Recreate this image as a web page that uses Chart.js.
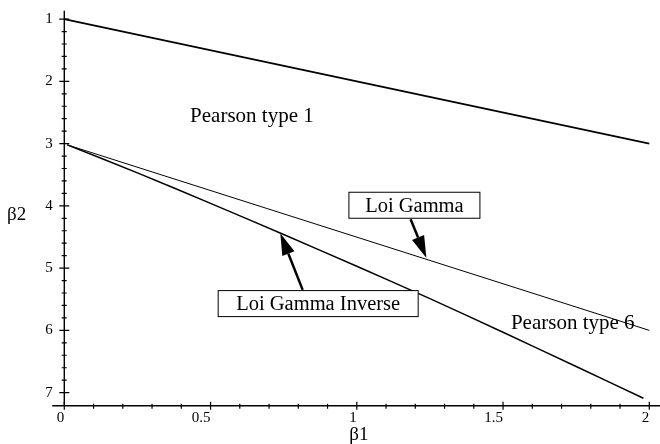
<!DOCTYPE html>
<html>
<head>
<meta charset="utf-8">
<script src="https://cdn.jsdelivr.net/npm/chart.js@4.4.1/dist/chart.umd.min.js"></script>
<style>
  html, body { margin: 0; padding: 0; background: #fff; }
  canvas { display: block; }
</style>
</head>
<body>
<canvas id="chart" width="660" height="444"></canvas>
<script>
// Boundary curves of the Pearson system in the (β1, β2) plane
const upperB1 = [0, 2];
const upperB2 = [1, 3];
const gammaB1 = [0.01, 2];
const gammaB2 = [3.02, 6];
const invGammaB1 = [0.01, 0.25, 0.5, 0.75, 1.0, 1.25, 1.5, 1.75, 1.98];
const invGammaB2 = [3.02, 3.47, 3.96, 4.46, 4.97, 5.49, 6.03, 6.58, 7.09];

// Axis ticks
const xTicks = [0, 0.5, 1, 1.5, 2];
const xTickLabels = ['0', '0.5', '1', '1.5', '2'];
const yTicks = [1, 2, 3, 4, 5, 6, 7];
const yTickLabels = ['1', '2', '3', '4', '5', '6', '7'];
const xMinorStep = 0.1;
const yMinorStep = 0.2;

const serif = '"Liberation Serif", "Times New Roman", serif';

// Region names and boxed labels with arrows (in β1 / β2 units)
const regionLabels = [
    { text: 'Pearson type 1', x: 0.43, y: 2.645 },
    { text: 'Pearson type 6', x: 1.527, y: 5.98 }
];
const callouts = [
    { text: 'Loi Gamma', x: 1.197, y: 3.99, w: 131, tail: { x: 1.184, y: 4.215 }, tip: { x: 1.238, y: 4.836 } },
    { text: 'Loi Gamma Inverse', x: 0.868, y: 5.57, w: 200, tail: { x: 0.815, y: 5.35 }, tip: { x: 0.7385, y: 4.44 } }
];

function toPoints(xs, ys) {
    return xs.map((x, i) => ({ x: x, y: ys[i] }));
}

function drawArrow(ctx, x0, y0, x1, y1) {
    const ang = Math.atan2(y1 - y0, x1 - x0);
    const headLen = 22, headHalf = 6.5;
    const bx = x1 - headLen * Math.cos(ang);
    const by = y1 - headLen * Math.sin(ang);
    ctx.lineWidth = 2.5;
    ctx.beginPath();
    ctx.moveTo(x0, y0);
    ctx.lineTo(bx, by);
    ctx.stroke();
    ctx.beginPath();
    ctx.moveTo(x1, y1);
    ctx.lineTo(bx + headHalf * Math.sin(ang), by - headHalf * Math.cos(ang));
    ctx.lineTo(bx - headHalf * Math.sin(ang), by + headHalf * Math.cos(ang));
    ctx.closePath();
    ctx.fill();
}

// Draws the crossed axes, tick marks, labels and annotations
const axesPlugin = {
    id: 'axes',
    afterDraw(chart) {
        const ctx = chart.ctx;
        const xs = chart.scales.x;
        const ys = chart.scales.y;
        const area = chart.chartArea;
        const x0 = xs.getPixelForValue(0);
        const yBase = area.bottom;

        ctx.save();
        ctx.strokeStyle = '#000';
        ctx.fillStyle = '#000';

        // axis lines
        ctx.lineWidth = 1.4;
        ctx.beginPath();
        ctx.moveTo(area.left, yBase);
        ctx.lineTo(area.right, yBase);
        ctx.moveTo(x0, area.top);
        ctx.lineTo(x0, yBase);
        ctx.stroke();

        // tick marks
        ctx.lineWidth = 1.2;
        ctx.beginPath();
        for (let v = xMinorStep; v < 2; v += xMinorStep) {
            const px = xs.getPixelForValue(v);
            ctx.moveTo(px, yBase - 2);
            ctx.lineTo(px, yBase + 3);
        }
        xTicks.forEach(v => {
            const px = xs.getPixelForValue(v);
            ctx.moveTo(px, yBase - 4);
            ctx.lineTo(px, yBase + 4);
        });
        for (let v = 1 + yMinorStep; v < 7; v += yMinorStep) {
            const py = ys.getPixelForValue(v);
            ctx.moveTo(x0 - 2.6, py);
            ctx.lineTo(x0 + 2.4, py);
        }
        yTicks.forEach(v => {
            const py = ys.getPixelForValue(v);
            ctx.moveTo(x0 - 5, py);
            ctx.lineTo(x0 + 5, py);
        });
        ctx.stroke();

        // tick labels
        ctx.font = '15px ' + serif;
        ctx.textAlign = 'right';
        ctx.textBaseline = 'alphabetic';
        xTicks.forEach((v, i) => {
            ctx.fillText(xTickLabels[i], xs.getPixelForValue(v), yBase + 16.5);
        });
        ctx.textBaseline = 'middle';
        yTicks.forEach((v, i) => {
            ctx.fillText(yTickLabels[i], x0 - 11.5, ys.getPixelForValue(v));
        });

        // axis titles
        ctx.font = '19px ' + serif;
        ctx.textAlign = 'center';
        ctx.textBaseline = 'alphabetic';
        ctx.fillText('β1', xs.getPixelForValue(1) + 2, yBase + 34);
        ctx.textAlign = 'left';
        ctx.fillText('β2', 7, ys.getPixelForValue(4) + 14);

        // region names
        ctx.font = '21px ' + serif;
        regionLabels.forEach(r => {
            ctx.fillText(r.text, xs.getPixelForValue(r.x), ys.getPixelForValue(r.y));
        });

        // boxed labels with arrows
        ctx.font = '20.5px ' + serif;
        ctx.textAlign = 'center';
        callouts.forEach(c => {
            const cx = xs.getPixelForValue(c.x);
            const cy = ys.getPixelForValue(c.y);
            ctx.fillStyle = '#fff';
            ctx.fillRect(cx - c.w / 2, cy - 13, c.w, 26);
            ctx.lineWidth = 1;
            ctx.strokeRect(cx - c.w / 2, cy - 13, c.w, 26);
            ctx.fillStyle = '#000';
            ctx.fillText(c.text, cx, cy + 6.5);
            drawArrow(ctx,
                xs.getPixelForValue(c.tail.x), ys.getPixelForValue(c.tail.y),
                xs.getPixelForValue(c.tip.x), ys.getPixelForValue(c.tip.y));
        });

        ctx.restore();
    }
};

new Chart(document.getElementById('chart'), {
    type: 'scatter',
    data: {
        datasets: [
            { label: 'β2 = β1 + 1', data: toPoints(upperB1, upperB2), borderWidth: 1.6 },
            { label: 'Loi Gamma', data: toPoints(gammaB1, gammaB2), borderWidth: 1 },
            { label: 'Loi Gamma Inverse', data: toPoints(invGammaB1, invGammaB2), borderWidth: 1.5, tension: 0.3 }
        ].map(ds => Object.assign(ds, {
            showLine: true,
            borderColor: '#000',
            pointRadius: 0,
            pointHoverRadius: 0,
            clip: false
        }))
    },
    options: {
        responsive: false,
        devicePixelRatio: 1,
        animation: false,
        events: [],
        layout: { padding: { left: 52.3, right: 0, top: 10.7, bottom: 38.3 } },
        plugins: { legend: { display: false }, tooltip: { enabled: false } },
        scales: {
            x: { type: 'linear', min: -0.041, max: 2.0366, display: false },
            y: { type: 'linear', min: 0.865, max: 7.21, reverse: true, display: false }
        }
    },
    plugins: [axesPlugin]
});
</script>
</body>
</html>
